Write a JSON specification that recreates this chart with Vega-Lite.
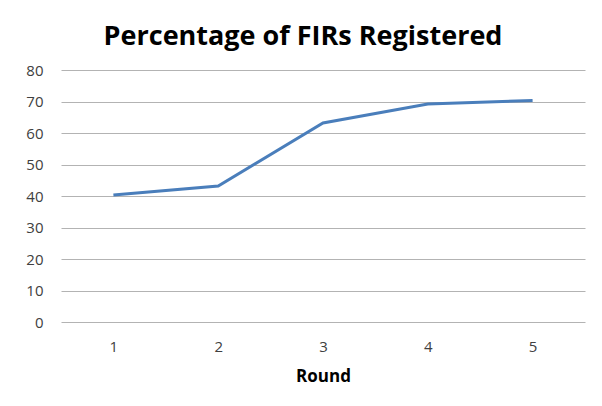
{
  "$schema": "https://vega.github.io/schema/vega-lite/v6.json",
  "width": 524,
  "height": 252,
  "autosize": {"type": "none"},
  "padding": {"left": 61, "top": 70, "right": 17, "bottom": 84},
  "background": "white",
  "title": {
    "text": "Percentage of FIRs Registered",
    "font": "Open Sans",
    "fontSize": 27,
    "fontWeight": "bold",
    "color": "#000000",
    "anchor": "middle",
    "dx": -20,
    "offset": 12
  },
  "data": {
    "values": [
      {"Round": "1", "Percentage": 40.3},
      {"Round": "2", "Percentage": 43.2},
      {"Round": "3", "Percentage": 63.2},
      {"Round": "4", "Percentage": 69.2},
      {"Round": "5", "Percentage": 70.3}
    ]
  },
  "mark": {"type": "line", "color": "#4a7ebb", "strokeWidth": 3},
  "encoding": {
    "x": {
      "field": "Round",
      "type": "ordinal",
      "scale": {"type": "point", "padding": 0.5},
      "axis": {
        "title": "Round",
        "titleFont": "Open Sans",
        "titleFontSize": 17,
        "titleFontWeight": "bold",
        "titleColor": "#000000",
        "titlePadding": 14,
        "labelAngle": 0,
        "labelFont": "Open Sans",
        "labelFontSize": 15,
        "labelColor": "#404040",
        "labelPadding": 17,
        "ticks": false,
        "tickSize": 0,
        "domain": false,
        "grid": false
      }
    },
    "y": {
      "field": "Percentage",
      "type": "quantitative",
      "scale": {"domain": [0, 80]},
      "axis": {
        "title": null,
        "values": [0, 10, 20, 30, 40, 50, 60, 70, 80],
        "labelFont": "Open Sans",
        "labelFontSize": 15,
        "labelColor": "#404040",
        "labelPadding": 18,
        "ticks": false,
        "tickSize": 0,
        "domain": false,
        "grid": true,
        "gridColor": "#b3b3b3",
        "gridWidth": 1.2
      }
    }
  },
  "config": {"view": {"stroke": null}}
}
